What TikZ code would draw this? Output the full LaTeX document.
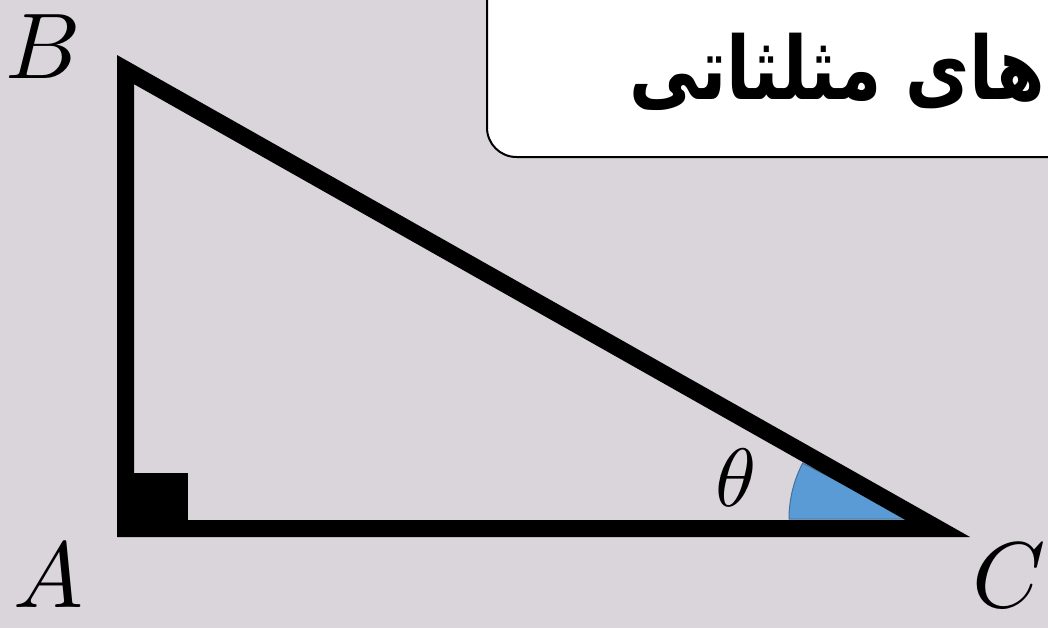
\documentclass[tikz,border=0pt]{standalone}
\usepackage{unicode-math}
\setmathfont{Latin Modern Math}
\newfontfamily\arabicfont[Script=Arabic]{DejaVu Sans}
\TeXXeTstate=1
\definecolor{bg}{RGB}{217,213,219}
\definecolor{sectorblue}{RGB}{91,155,213}
\definecolor{sectoredge}{RGB}{65,113,156}
\tikzset{
  side/.style={line width=12.75pt, line join=miter, miter limit=10},
  vlabel/.style={font=\fontsize{70}{70}\selectfont, inner sep=0pt},
}
\begin{document}
\begin{tikzpicture}[x=0.75pt,y=-0.75pt]
\useasboundingbox (0,0) rectangle (1048,628);
\fill[bg] (0,0) rectangle (1048,628);
% title box
\draw[fill=white, rounded corners=22pt, line width=1.5pt] (487,-40) rectangle (1120,157);
\node[anchor=east, inner sep=0pt, xscale=0.92, yscale=1.15] (title) at (1045,72) {\fontsize{57}{60}\selectfont\arabicfont\bfseries\beginR های مثلثاتی\endR};
% triangle
\coordinate (A) at (125.5,528.5);
\coordinate (B) at (125.5,69.6);
\coordinate (C) at (937.7,528.5);
\fill (133,473) rectangle (188,524);
\filldraw[fill=sectorblue, draw=sectoredge, line width=0.75pt] (910,519) -- (789,519) arc[start angle=180, end angle=207.5, radius=121] -- cycle;
\draw[side] (A) -- (B) -- (C) -- cycle;
% labels
\node[vlabel] (lb) at (42,47) {$B$};
\node[vlabel] (la) at (48,574) {$A$};
\node[vlabel] (lc) at (1009,576) {$C$};
\node[font=\fontsize{62}{62}\selectfont, inner sep=0pt] (lt) at (735,478) {$\theta$};
\end{tikzpicture}
\end{document}
